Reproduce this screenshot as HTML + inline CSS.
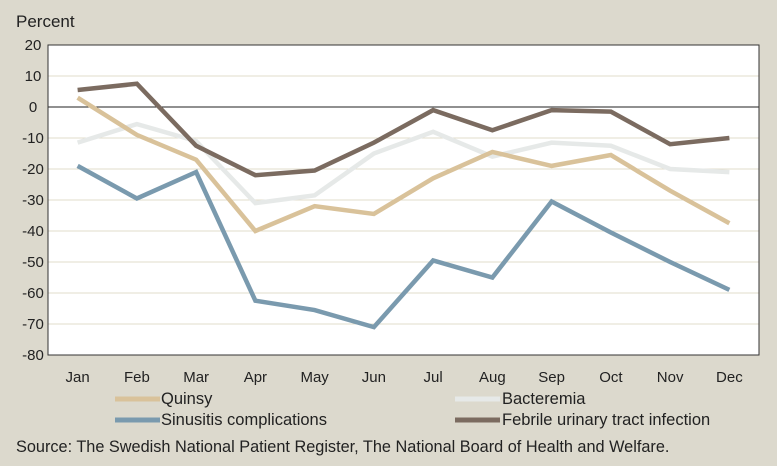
<!DOCTYPE html>
<html><head><meta charset="utf-8"><style>
body{margin:0;background:#dcd9cd;}
svg{display:block;font-family:"Century Gothic","Liberation Sans",sans-serif;}
</style></head><body>
<svg id="chart" width="777" height="466">
<rect x="0" y="0" width="777" height="466" fill="#dcd9cd"/>
<text x="16" y="27" font-size="17" fill="#222">Percent</text>
<g id="grid"></g><g id="lines"></g><g id="axes"></g>
<g font-size="16.5" fill="#222">
<line x1="115" y1="399" x2="160" y2="399" stroke="#d9c29a" stroke-width="5"/>
<text x="161" y="404">Quinsy</text>
<line x1="455" y1="399" x2="500" y2="399" stroke="#e6e9e8" stroke-width="5"/>
<text x="502" y="404">Bacteremia</text>
<line x1="115" y1="420" x2="160" y2="420" stroke="#7a9aae" stroke-width="5"/>
<text x="161" y="425">Sinusitis complications</text>
<line x1="455" y1="420" x2="500" y2="420" stroke="#7b6b60" stroke-width="5"/>
<text x="502" y="425">Febrile urinary tract infection</text>
</g>
<text x="16" y="452" font-size="16.3" fill="#222">Source: The Swedish National Patient Register, The National Board of Health and Welfare.</text>
</svg>
<script>
const months=["Jan","Feb","Mar","Apr","May","Jun","Jul","Aug","Sep","Oct","Nov","Dec"];
const yTicks=[20,10,0,-10,-20,-30,-40,-50,-60,-70,-80];
const quinsy=[3,-9,-17,-40,-32,-34.5,-23,-14.5,-19,-15.5,-27,-37.5];
const bacteremia=[-11.5,-5.5,-11,-31,-28.5,-15,-8,-16,-11.5,-12.5,-20,-21];
const sinusitis=[-19,-29.5,-21,-62.5,-65.5,-71,-49.5,-55,-30.5,-40.5,-50,-59];
const febrile=[5.5,7.5,-12.5,-22,-20.5,-11.5,-1,-7.5,-1,-1.5,-12,-10];
const NS="http://www.w3.org/2000/svg";
const L=48,R=759,T=45,B=355;
const bw=(R-L)/months.length;
const x=i=>L+bw*(i+0.5);
const y=v=>T+(20-v)/100*(B-T);
function mk(tag,attrs,parent){const e=document.createElementNS(NS,tag);for(const k in attrs)e.setAttribute(k,attrs[k]);parent.appendChild(e);return e;}
const grid=document.getElementById('grid'),lines=document.getElementById('lines'),axes=document.getElementById('axes');
mk('rect',{x:L,y:T,width:R-L,height:B-T,fill:'#fff'},grid);
yTicks.forEach(v=>{
  if(v!==20&&v!==-80&&v!==0){const g=mk('line',{x1:L,x2:R,y1:y(v),y2:y(v),stroke:'#e2dccb','stroke-width':1},grid);
  
  }
  const t=mk('text',{x:33,y:y(v)+5,'font-size':15,fill:'#222','text-anchor':'middle'},axes);
  t.textContent=v;
  
  
});
months.forEach((m,i)=>{
  const t=mk('text',{x:x(i),y:382,'font-size':15,fill:'#222','text-anchor':'middle'},axes);
  t.textContent=m;
  
  
});
const series=[[bacteremia,'#e6e9e8','line-bacteremia'],[quinsy,'#d9c29a','line-quinsy'],[sinusitis,'#7a9aae','line-sinusitis'],[febrile,'#7b6b60','line-febrile']];
series.forEach(([d,c,n])=>{
  const p=mk('polyline',{points:d.map((v,i)=>x(i)+','+y(v)).join(' '),fill:'none',stroke:c,'stroke-width':4.5,'stroke-linejoin':'miter'},lines);
  
  
});
const z=mk('line',{x1:L,x2:R,y1:y(0),y2:y(0),stroke:'#222','stroke-width':1},axes);


const fr=mk('rect',{x:L,y:T,width:R-L,height:B-T,fill:'none',stroke:'#333','stroke-width':1},axes);


lines.parentNode.insertBefore(z,lines);
</script>
</body></html>
